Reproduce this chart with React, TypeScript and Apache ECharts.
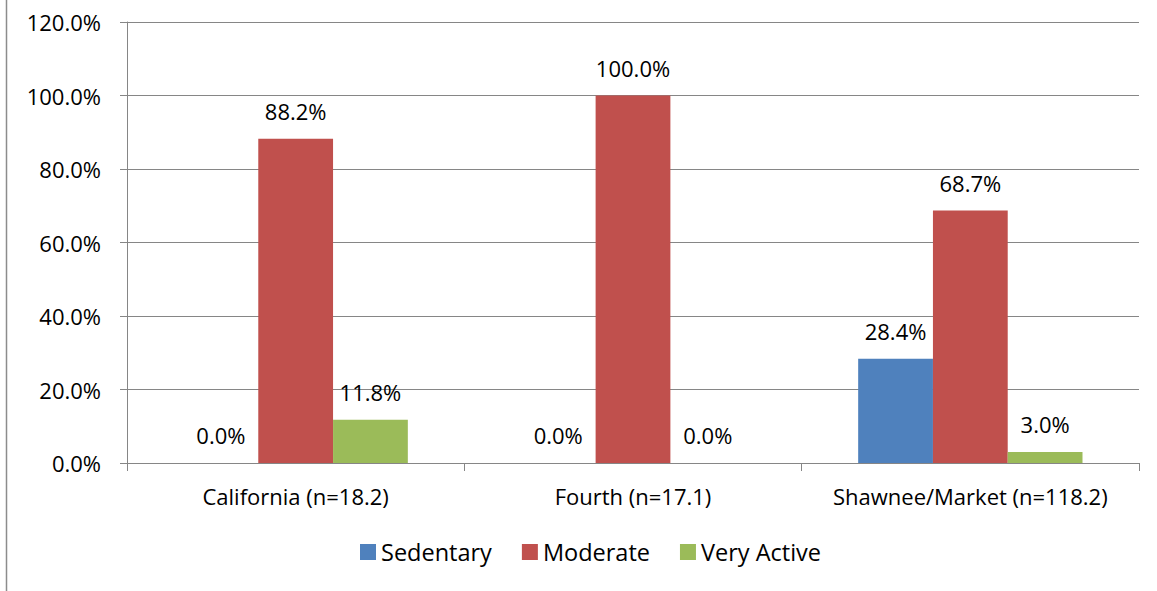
import React, { useEffect, useRef } from "react";
import * as echarts from "echarts";

const categories = ["California (n=18.2)", "Fourth (n=17.1)", "Shawnee/Market (n=118.2)"];
const sedentary = [0.0, 0.0, 28.4];
const moderate = [88.2, 100.0, 68.7];
const veryActive = [11.8, 0.0, 3.0];
const seriesNames = ["Sedentary", "Moderate", "Very Active"];
const colors = ["#4F81BD", "#C0504D", "#9BBB59"];

const FONT = "Open Sans";
const FS = 22;

export default function App() {
  const ref = useRef<HTMLDivElement>(null);
  useEffect(() => {
    const chart = echarts.init(ref.current!, null, { renderer: "svg" });
    const mk = (name: string, data: number[], color: string) => ({
      name,
      type: "bar",
      data,
      barGap: "0%",
      barCategoryGap: "33.5%",
      itemStyle: { color },
      label: {
        show: true,
        position: "top",
        distance: 17,
        formatter: (p: any) => p.value.toFixed(1) + "%",
        color: "#000",
        fontFamily: FONT,
        fontSize: FS,
      },
    });
    chart.setOption({
      animation: false,
      textStyle: { fontFamily: FONT },
      grid: { left: 127, right: 18, top: 22, bottom: 128 },
      legend: {
        bottom: 27,
        left: 360,
        padding: 0,
        itemWidth: 16,
        itemHeight: 16,
        itemGap: 30,
        icon: "rect",
        textStyle: { fontFamily: FONT, fontSize: 23.5, color: "#000" },
        data: seriesNames,
      },
      xAxis: {
        type: "category",
        data: categories,
        axisLine: { lineStyle: { color: "#868686" } },
        axisTick: { show: true, length: 8, lineStyle: { color: "#868686" } },
        axisLabel: { color: "#000", fontFamily: FONT, fontSize: FS, margin: 22, interval: 0 },
      },
      yAxis: {
        type: "value",
        min: 0,
        max: 120,
        interval: 20,
        axisLine: { show: true, lineStyle: { color: "#868686" } },
        axisTick: { show: true, length: 7, lineStyle: { color: "#868686" } },
        splitLine: { lineStyle: { color: "#868686" } },
        axisLabel: {
          color: "#000",
          fontFamily: FONT,
          fontSize: FS,
          margin: 26,
          formatter: (v: number) => v.toFixed(1) + "%",
        },
      },
      graphic: [
        {
          type: "line",
          shape: { x1: 6.5, y1: 0, x2: 6.5, y2: 591 },
          style: { stroke: "#8c8c8c", lineWidth: 1.5 },
        },
      ],
      series: [
        mk(seriesNames[0], sedentary, colors[0]),
        mk(seriesNames[1], moderate, colors[1]),
        mk(seriesNames[2], veryActive, colors[2]),
      ],
    });
    return () => chart.dispose();
  }, []);
  return (
    <div
      ref={ref}
      style={{ position: "fixed", left: 0, top: 0, width: 1157, height: 591, background: "#fff" }}
    />
  );
}
